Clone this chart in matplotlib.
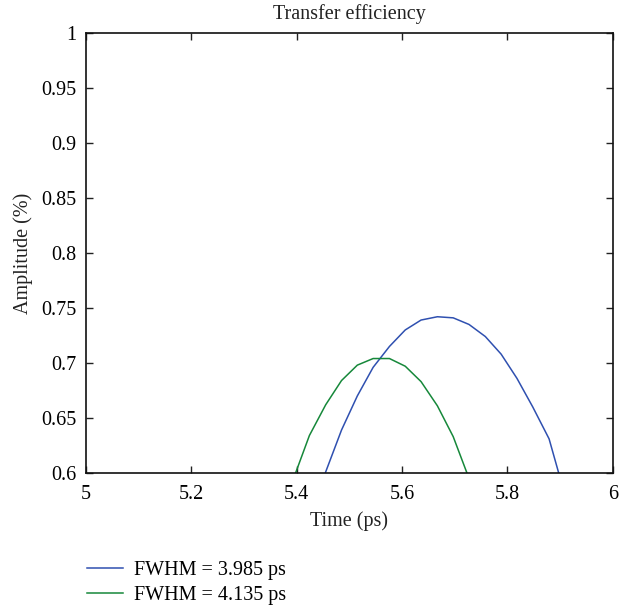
import matplotlib
matplotlib.use("Agg")
import matplotlib.pyplot as plt

# ── Data ─────────────────────────────────────────────────────────────────────
t_blue = [5.424, 5.455, 5.485, 5.515, 5.545, 5.576, 5.606, 5.636, 5.667,
          5.697, 5.727, 5.758, 5.788, 5.818, 5.848, 5.879, 5.909]
amp_blue = [0.559, 0.601, 0.639, 0.670, 0.696, 0.715, 0.730, 0.739, 0.742,
            0.741, 0.735, 0.724, 0.708, 0.686, 0.660, 0.631, 0.580]

t_green = [5.364, 5.394, 5.424, 5.455, 5.485, 5.515, 5.545, 5.576, 5.606,
           5.636, 5.667, 5.697, 5.727, 5.758]
amp_green = [0.555, 0.595, 0.634, 0.662, 0.684, 0.698, 0.704, 0.704, 0.697,
             0.683, 0.661, 0.633, 0.595, 0.555]

labels = ["FWHM = 3.985 ps", "FWHM = 4.135 ps"]
xticks = [5, 5.2, 5.4, 5.6, 5.8, 6]
yticks = [0.6, 0.65, 0.7, 0.75, 0.8, 0.85, 0.9, 0.95, 1]

plt.rcParams["font.family"] = ["Liberation Serif", "DejaVu Serif"]
FS = 14.5

fig = plt.figure(figsize=(6.19, 6.11), dpi=100)
ax = fig.add_axes([0.139, 0.226, 0.851, 0.72])

l1, = ax.plot(t_blue, amp_blue, color="#2f50b0", lw=1.1)
l2, = ax.plot(t_green, amp_green, color="#16883a", lw=1.1)

ax.set_xlim(5, 6)
ax.set_ylim(0.6, 1)
ax.set_xticks(xticks)
ax.set_xticklabels(["5", "5.2", "5.4", "5.6", "5.8", "6"])
ax.set_yticks(yticks)
ax.set_yticklabels(["0.6", "0.65", "0.7", "0.75", "0.8", "0.85", "0.9", "0.95", "1"])
ax.tick_params(direction="in", top=True, right=True, labelsize=FS,
               length=5, width=1, color="#222222")
ax.tick_params(axis="x", pad=9)
ax.tick_params(axis="y", pad=7)
for s in ax.spines.values():
    s.set_linewidth(1.2)
    s.set_color("#111111")

ax.set_title("Transfer efficiency", fontsize=FS, pad=10, color="#222222")
ax.set_xlabel("Time (ps)", fontsize=FS, labelpad=5, color="#222222")
ax.set_ylabel("Amplitude (%)", fontsize=FS, labelpad=6, color="#222222")

fig.legend([l1, l2], labels, loc="upper left", bbox_to_anchor=(0.128, 0.095),
           frameon=False, fontsize=FS, handlelength=1.75, handletextpad=0.55,
           labelspacing=0.3, borderaxespad=0)

fig.savefig("out.png", dpi=100)
